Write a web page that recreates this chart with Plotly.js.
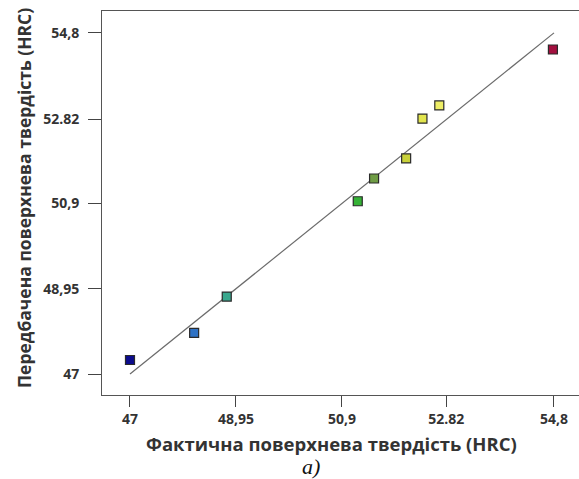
<!DOCTYPE html>
<html>
<head>
<meta charset="utf-8">
<script src="https://cdn.plot.ly/plotly-3.0.1.min.js"></script>
<style>html,body{margin:0;padding:0;background:#fff;}#chart{width:579px;height:479px;}</style>
</head>
<body>
<div id="chart"></div>
<script>
// Data
const actual    = [47.0, 48.18, 48.78, 51.19, 51.49, 52.08, 52.38, 52.69, 54.78];
const predicted = [47.32, 47.94, 48.77, 50.95, 51.47, 51.93, 52.84, 53.14, 54.42];
const pointColors = ['#0c0c8c', '#2f72c4', '#3aa88e', '#35b236', '#6f9c45', '#c9d23a', '#e2e54e', '#eeee66', '#a3103f'];
const fitX = [47, 54.8];
const fitY = [47, 54.8];
const tickVals = [47, 48.95, 50.9, 52.82, 54.8];
const tickText = ['47', '48,95', '50,9', '52.82', '54,8'];
const xTitle = 'Фактична поверхнева твердість (HRC)';
const yTitle = 'Передбачена поверхнева твердість (HRC)';
const caption = 'a)';

const traces = [
  {x: fitX, y: fitY, mode: 'lines', type: 'scatter',
   line: {color: '#6b6b6b', width: 1.2}, hoverinfo: 'skip'},
  {x: actual, y: predicted, mode: 'markers', type: 'scatter',
   marker: {symbol: 'square', size: 9, color: pointColors, line: {color: '#2a2a2a', width: 1.2}}}
];

const axisCommon = {
  tickvals: tickVals, ticktext: tickText, ticks: 'outside', tickwidth: 1,
  tickcolor: '#444', showgrid: false, zeroline: false, showline: true, mirror: true,
  linecolor: '#555', linewidth: 1,
  tickfont: {family: 'Open Sans, sans-serif', size: 14, color: '#333', weight: 'bold'}
};

const layout = {
  width: 579, height: 479,
  margin: {l: 102, r: 0, t: 11, b: 84},
  paper_bgcolor: '#fff', plot_bgcolor: '#fff',
  showlegend: false,
  xaxis: Object.assign({}, axisCommon, {range: [46.485, 55.26], ticklen: 11, ticklabelstandoff: 0}),
  yaxis: Object.assign({}, axisCommon, {range: [46.52, 55.30], ticklen: 13, ticklabelstandoff: 6}),
  annotations: [
    {text: '<b>' + xTitle + '</b>', xref: 'paper', yref: 'paper', xanchor: 'center',
     yanchor: 'middle', showarrow: false,
     font: {family: 'Open Sans, sans-serif', size: 18.5, color: '#333'}},
    {text: '<b>' + yTitle + '</b>', xref: 'paper', yref: 'paper', xanchor: 'center',
     yanchor: 'middle', showarrow: false, textangle: -90,
     font: {family: 'Open Sans, sans-serif', size: 17.5, color: '#333'}},
    {text: '<i>' + caption + '</i>', xref: 'paper', yref: 'paper', xanchor: 'center',
     yanchor: 'middle', showarrow: false,
     font: {family: 'Liberation Serif, serif', size: 22, color: '#111'}}
  ]
};
layout.annotations[0].x = (331 - 102) / (579 - 102);
layout.annotations[0].y = -(443 - 395) / (395 - 11);
layout.annotations[1].x = -(102 - 24) / (579 - 102);
layout.annotations[1].y = (395 - 198) / (395 - 11);
layout.annotations[2].x = (311 - 102) / (579 - 102);
layout.annotations[2].y = -(466 - 395) / (395 - 11);

Plotly.newPlot('chart', traces, layout, {displayModeBar: false, staticPlot: true});
</script>
</body>
</html>
